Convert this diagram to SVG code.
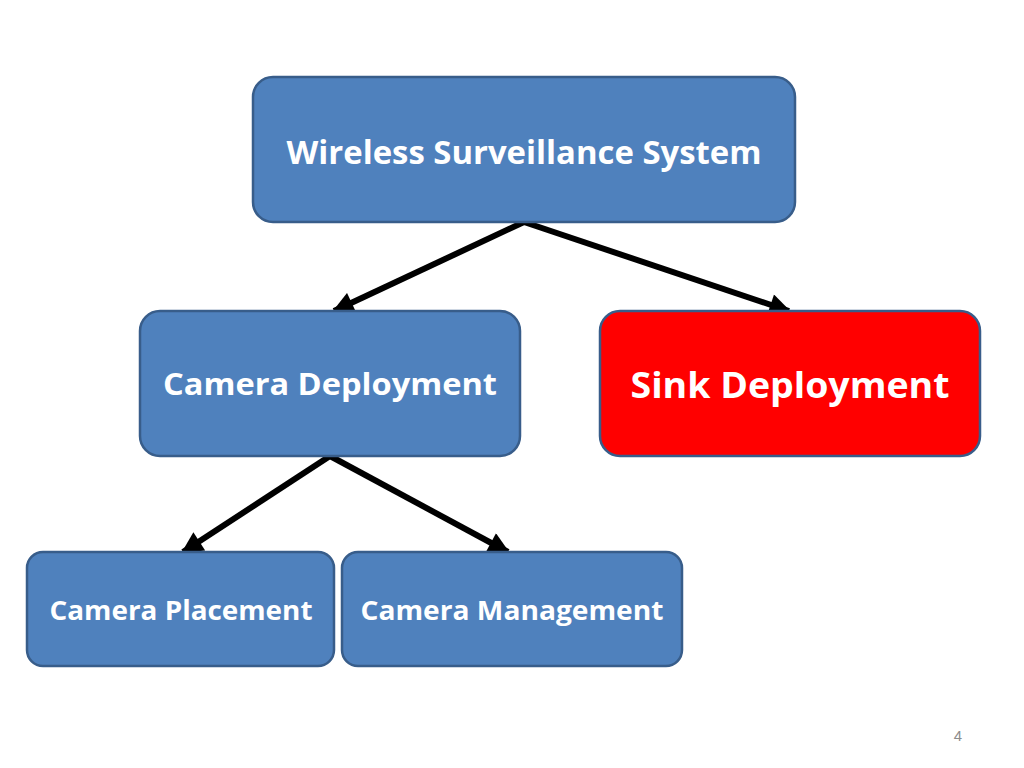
<svg xmlns="http://www.w3.org/2000/svg" width="1024" height="768" viewBox="0 0 1024 768">
<defs>
<style>
.box{fill:#4F81BD;stroke:#385D8A;stroke-width:2.5}
.red{fill:#FF0000;stroke:#385D8A;stroke-width:2.5}
.lbl{font-family:"Open Sans","Liberation Sans",Arial,sans-serif;font-weight:bold;fill:#FFFFFF;text-anchor:middle}
.con{stroke:#000;stroke-width:6;fill:none;marker-end:url(#ah)}
</style>
<marker id="ah" viewBox="0 0 10 10" refX="9" refY="5" markerWidth="4" markerHeight="3.6" orient="auto" markerUnits="strokeWidth">
<path d="M0,0 L10,5 L0,10 z" fill="#000"/>
</marker>
</defs>
<rect width="1024" height="768" fill="#FFFFFF"/>
<g id="connectors">
<line class="con" x1="524" y1="222" x2="334" y2="311"/>
<line class="con" x1="524" y1="222" x2="789" y2="311"/>
<line class="con" x1="330" y1="456" x2="183" y2="552"/>
<line class="con" x1="330" y1="456" x2="508" y2="552"/>
</g>
<g id="node-wss">
<rect class="box" x="253" y="77" width="542" height="145" rx="20"/>
<text class="lbl" x="524" y="164" font-size="32" textLength="475" lengthAdjust="spacingAndGlyphs">Wireless Surveillance System</text>
</g>
<g id="node-camera-deployment">
<rect class="box" x="140" y="311" width="380" height="145" rx="20"/>
<text class="lbl" x="330" y="395" font-size="30" textLength="334" lengthAdjust="spacingAndGlyphs">Camera Deployment</text>
</g>
<g id="node-sink-deployment">
<rect class="red" x="600" y="311" width="380" height="145" rx="20"/>
<text class="lbl" x="790" y="398" font-size="36" textLength="319" lengthAdjust="spacingAndGlyphs">Sink Deployment</text>
</g>
<g id="node-camera-placement">
<rect class="box" x="27" y="552" width="307" height="114" rx="16"/>
<text class="lbl" x="181" y="620" font-size="26" textLength="263" lengthAdjust="spacingAndGlyphs">Camera Placement</text>
</g>
<g id="node-camera-management">
<rect class="box" x="342" y="552" width="340" height="114" rx="16"/>
<text class="lbl" x="512" y="620" font-size="26" textLength="303" lengthAdjust="spacingAndGlyphs">Camera Management</text>
</g>
<text x="958" y="741" font-family="Liberation Sans,Arial,sans-serif" font-size="15" fill="#8C8C8C" text-anchor="middle">4</text>
</svg>
